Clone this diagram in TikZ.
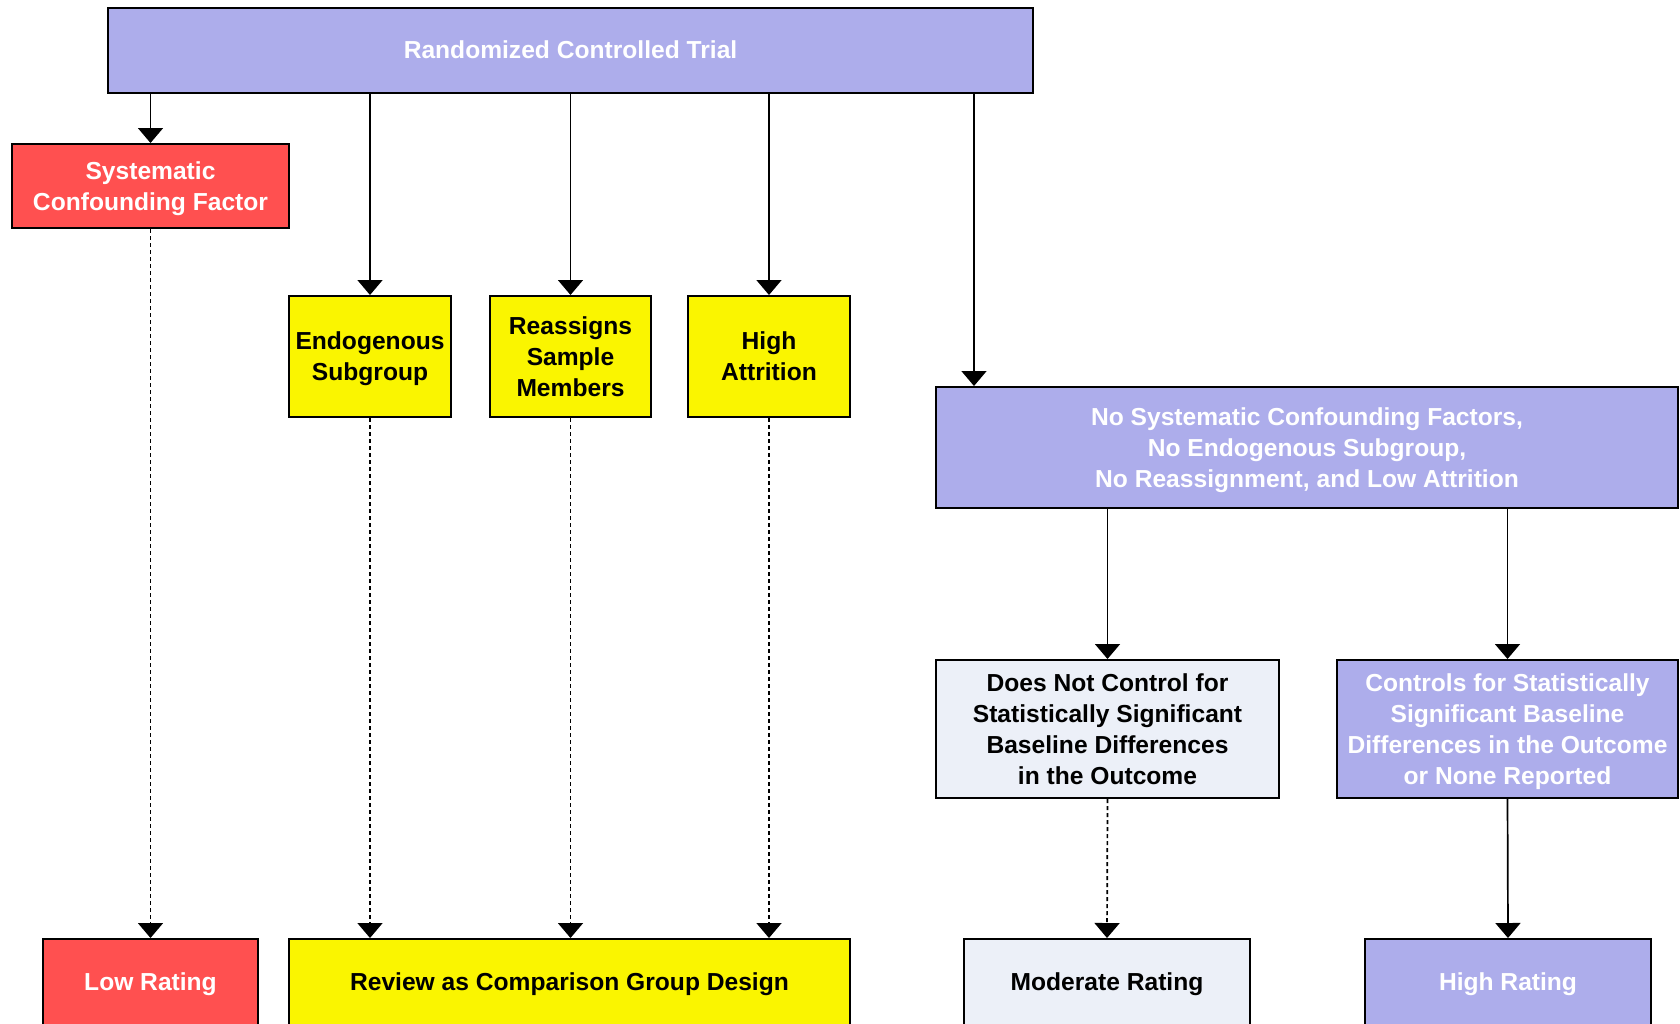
\documentclass[tikz,border=0pt]{standalone}
\usepackage{fontspec}
\setmainfont{Liberation Sans}
\usetikzlibrary{arrows.meta,calc}
\definecolor{purp}{RGB}{173,173,235}
\definecolor{redb}{RGB}{255,80,80}
\definecolor{yel}{RGB}{250,245,0}
\definecolor{pale}{RGB}{236,240,248}
\begin{document}
\begin{tikzpicture}[x=0.5pt,y=-0.5pt,
 box/.style={draw=black, line width=1pt, inner sep=2pt, align=center, text depth=0pt, font=\fontsize{12.3}{15.5}\selectfont\bfseries},
 pbox/.style={box, fill=purp, text=white},
 rbox/.style={box, fill=redb, text=white},
 ybox/.style={box, fill=yel, text=black},
 lbox/.style={box, fill=pale, text=black},
 arr/.style={-{Triangle[width=12.5pt,length=7.5pt]}, line width=0.85pt},
 dsh/.style={arr, dash pattern=on 2pt off 1.5pt}]
\useasboundingbox (0,0) rectangle (1680,1023);
\node[pbox, minimum width=462.5pt, minimum height=42.5pt] (top) at (570.5,50) {Randomized Controlled Trial};
\node[rbox, minimum width=138.5pt, minimum height=42pt] (sys) at (150.5,186) {Systematic\\Confounding Factor};
\node[ybox, minimum width=81pt, minimum height=60.5pt] (endo) at (370,356.5) {Endogenous\\Subgroup};
\node[ybox, minimum width=80.5pt, minimum height=60.5pt] (reas) at (570.5,356.5) {Reassigns\\Sample\\Members};
\node[ybox, minimum width=81pt, minimum height=60.5pt] (attr) at (769,356.5) {High\\Attrition};
\node[pbox, minimum width=371pt, minimum height=60.5pt] (nosys) at (1307,447.5) {No Systematic Confounding Factors,\\No Endogenous Subgroup,\\No Reassignment, and Low Attrition};
\node[lbox, minimum width=171.5pt, minimum height=69pt] (does) at (1107.5,729) {Does Not Control for\\Statistically Significant\\Baseline Differences\\in the Outcome};
\node[pbox, minimum width=170.5pt, minimum height=69pt] (ctrl) at (1507.5,729) {Controls for Statistically\\Significant Baseline\\Differences in the Outcome\\or None Reported};
\node[rbox, minimum width=107.5pt, minimum height=43pt] (low) at (150.5,982) {Low Rating};
\node[ybox, minimum width=280.5pt, minimum height=43pt] (rev) at (569.5,982) {Review as Comparison Group Design};
\node[lbox, minimum width=143pt, minimum height=43pt] (mod) at (1107,982) {Moderate Rating};
\node[pbox, minimum width=143pt, minimum height=43pt] (high) at (1508,982) {High Rating};
\coordinate (nsin) at ($(nosys.north west)+(39,0)$);
\draw[arr] (top.south -| sys.north) -- (sys.north);
\draw[arr] (top.south -| endo.north) -- (endo.north);
\draw[arr] (top.south -| reas.north) -- (reas.north);
\draw[arr] (top.south -| attr.north) -- (attr.north);
\draw[arr] (top.south -| nsin) -- (nsin);
\draw[dsh] (sys.south) -- (low.north);
\draw[dsh] (endo.south) -- (rev.north -| endo.south);
\draw[dsh] (reas.south) -- (rev.north -| reas.south);
\draw[dsh] (attr.south) -- (rev.north -| attr.south);
\draw[arr] (nosys.south -| does.north) -- (does.north);
\draw[arr] (nosys.south -| ctrl.north) -- (ctrl.north);
\draw[dsh] (does.south) -- (mod.north);
\draw[arr] (ctrl.south) -- (high.north);
\end{tikzpicture}
\end{document}
